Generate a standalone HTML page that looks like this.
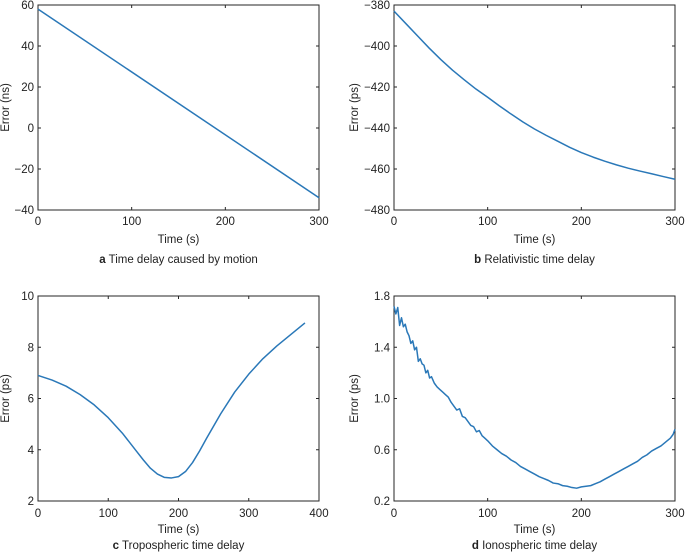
<!DOCTYPE html>
<html><head><meta charset="utf-8"><style>
body{margin:0;background:#fff;width:685px;height:554px;overflow:hidden;font-family:"Liberation Sans",Arial,sans-serif}
svg text{font-family:"Liberation Sans",Arial,sans-serif;fill:#222}
</style></head><body>
<svg id="fig" width="685" height="554"></svg>
<script>
const NS="http://www.w3.org/2000/svg";
// Panel a
const aTimes=[0,300];
const aValues=[58,-34];
const aYTicks=[-40,-20,0,20,40,60];
const aXTicks=[0,100,200,300];
// Panel b
const bTimes=[0,12.5,25,37.5,50,62.5,75,87.5,100,112.5,125,137.5,150,162.5,175,187.5,200,212.5,225,237.5,250,262.5,275,287.5,300];
const bValues=[-383,-389,-395,-401,-406.6,-411.8,-416.5,-421,-425,-429.2,-433.2,-437,-440.5,-443.6,-446.5,-449.4,-452,-454.2,-456.2,-458,-459.6,-461,-462.3,-463.7,-465];
const bYTicks=[-480,-460,-440,-420,-400,-380];
const bXTicks=[0,100,200,300];
// Panel c
const cTimes=[0,20,40,60,80,100,120,140,150,160,170,180,190,200,210,220,230,240,260,280,300,320,340,360,380];
const cValues=[6.9,6.72,6.48,6.15,5.75,5.25,4.65,3.95,3.6,3.28,3.05,2.92,2.9,2.95,3.15,3.5,3.95,4.45,5.4,6.25,6.95,7.55,8.05,8.5,8.95];
const cYTicks=[2,4,6,8,10];
const cXTicks=[0,100,200,300,400];
// Panel d
const dTimes=[0,2,4,6,8,10,12,14,16,18,20,22,24,26,28,30,32,34,36,38,40,43,46,49,52,55,58,61,64,67,70,73,76,79,82,85,88,91,94,97,100,105,110,115,120,125,130,135,140,145,150,155,160,165,170,175,180,185,190,195,200,205,210,215,220,225,230,235,240,245,250,255,260,265,270,275,280,285,290,295,298,300];
const dValues=[1.72,1.66,1.71,1.57,1.63,1.56,1.58,1.52,1.49,1.43,1.45,1.38,1.40,1.29,1.31,1.27,1.26,1.20,1.22,1.16,1.17,1.12,1.09,1.07,1.05,1.03,1.01,0.97,0.94,0.91,0.92,0.86,0.85,0.82,0.79,0.78,0.74,0.75,0.71,0.69,0.67,0.63,0.60,0.57,0.55,0.52,0.50,0.47,0.45,0.43,0.41,0.39,0.375,0.36,0.34,0.335,0.32,0.315,0.305,0.30,0.31,0.315,0.32,0.335,0.35,0.37,0.39,0.41,0.43,0.45,0.47,0.49,0.51,0.54,0.56,0.59,0.61,0.63,0.66,0.69,0.72,0.76];
const dYTicks=[0.2,0.6,1.0,1.4,1.8];
const dXTicks=[0,100,200,300];

const svg=document.getElementById('fig');
function el(tag,attrs,parent){const e=document.createElementNS(NS,tag);for(const k in attrs)e.setAttribute(k,attrs[k]);(parent||svg).appendChild(e);return e;}
function panel(id,box,off,xr,yr,xt,yt,fmt,xs,ys,ylabel,letter,title){
  const g=el('g',{});
  
  
  const sx=v=>box.x0+(v-xr[0])/(xr[1]-xr[0])*(box.x1-box.x0);
  const sy=v=>box.y1-(v-yr[0])/(yr[1]-yr[0])*(box.y1-box.y0);
  const fr=el('rect',{x:box.x0,y:box.y0,width:box.x1-box.x0,height:box.y1-box.y0,fill:'none',stroke:'#262626','stroke-width':1},g);
  
  
  xt.forEach(t=>{const x=sx(t);
    el('line',{x1:x,x2:x,y1:box.y1,y2:box.y1-3,stroke:'#262626'},g);
    el('line',{x1:x,x2:x,y1:box.y0,y2:box.y0+3,stroke:'#262626'},g);
    const tx=el('text',{x:x,y:box.y1+off[0],'text-anchor':'middle','font-size':11.5},g);tx.textContent=t;
    
    });
  yt.forEach(t=>{const y=sy(t);
    el('line',{x1:box.x0,x2:box.x0+3,y1:y,y2:y,stroke:'#262626'},g);
    el('line',{x1:box.x1,x2:box.x1-3,y1:y,y2:y,stroke:'#262626'},g);
    const tx=el('text',{x:box.x0-4,y:y+4,'text-anchor':'end','font-size':11.5},g);tx.textContent=fmt(t).replace('-','\u2212');
    
    });
  let d='';xs.forEach((v,i)=>{d+=(i?'L':'M')+sx(v).toFixed(2)+','+sy(ys[i]).toFixed(2);});
  const p=el('path',{d:d,fill:'none',stroke:'#2a78b8','stroke-width':1.5,'stroke-linejoin':'round'},g);
  
  
  const xl=el('text',{x:(box.x0+box.x1)/2,y:box.y1+off[1],'text-anchor':'middle','font-size':11.5},g);xl.textContent='Time (s)';
  
  
  const cy=(box.y0+box.y1)/2, cx=box.x0-(id==='a'||id==='c'?29:36);
  const yl=el('text',{x:cx,y:cy,'text-anchor':'middle','font-size':11.5,transform:`rotate(-90 ${cx} ${cy})`},g);yl.textContent=ylabel;
  
  
  const ct=el('text',{x:(box.x0+box.x1)/2,y:box.y1+off[2],'text-anchor':'middle','font-size':11.5},g);
  const b=el('tspan',{'font-weight':'bold'},ct);b.textContent=letter;
  const r=el('tspan',{},ct);r.textContent=' '+title;
  
  
}
const topOff=[15,33,53], botOff=[16,32,48];
panel('a',{x0:38,x1:319,y0:5,y1:210},topOff,[0,300],[-40,60],aXTicks,aYTicks,t=>String(t),aTimes,aValues,'Error (ns)','a','Time delay caused by motion');
panel('b',{x0:394,x1:675,y0:5,y1:210},topOff,[0,300],[-480,-380],bXTicks,bYTicks,t=>String(t),bTimes,bValues,'Error (ps)','b','Relativistic time delay');
panel('c',{x0:38,x1:319,y0:296,y1:501},botOff,[0,400],[2,10],cXTicks,cYTicks,t=>String(t),cTimes,cValues,'Error (ps)','c','Tropospheric time delay');
panel('d',{x0:394,x1:675,y0:296,y1:501},botOff,[0,300],[0.2,1.8],dXTicks,dYTicks,t=>t.toFixed(1),dTimes,dValues,'Error (ps)','d','Ionospheric time delay');
</script>
</body></html>
